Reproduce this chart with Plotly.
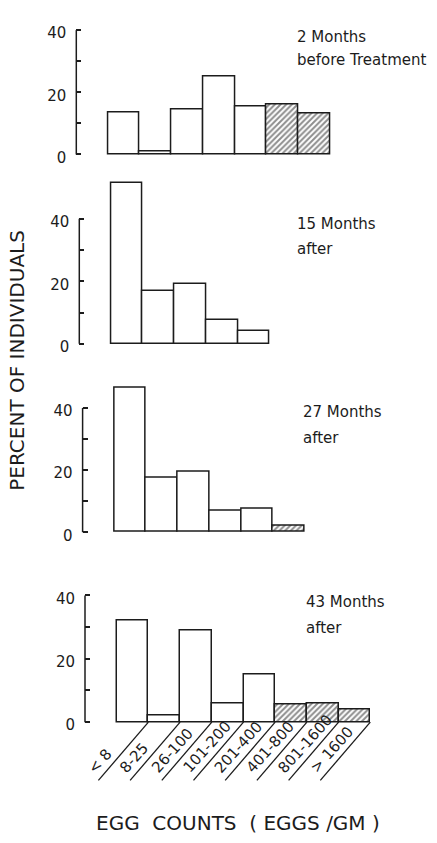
import plotly.graph_objects as go

# ---------------- data ----------------
categories = ["< 8", "8-25", "26-100", "101-200", "201-400", "401-800", "801-1600", "> 1600"]
hatched_categories = ["401-800", "801-1600", "> 1600"]

pct_2m_before = [13.5, 1, 14.5, 25, 15.5, 16, 13]
pct_15m_after = [51.5, 17, 19, 7.5, 4]
pct_27m_after = [46.5, 17.5, 19.5, 7, 7.5, 2]
pct_43m_after = [32, 2, 29, 6, 15, 5.5, 6, 4]

series = [pct_2m_before, pct_15m_after, pct_27m_after, pct_43m_after]
panel_titles = [("2 Months", "before Treatment"), ("15 Months", "after"),
                ("27 Months", "after"), ("43 Months", "after")]

y_tick_vals = [0, 10, 20, 30, 40]
y_tick_text = ["0", "", "20", "", "40"]
y_axis_top = 40
y_title = "PERCENT OF INDIVIDUALS"
x_title = "EGG\u00a0\u00a0COUNTS\u00a0\u00a0(\u00a0EGGS\u00a0/GM\u00a0)"

# ---------------- layout geometry (pixels) ----------------
W, H = 437, 843
UNIT = 31.7                      # px per category
axis_left = [76.3, 79.3, 82.6, 85.0]
y0_px = [156.5, 348.3, 539.3, 731.7]
y40_px = [30.5, 221.7, 413.3, 603.3]
y_ranges = [[-0.4, 45], [-0.4, 55], [-0.4, 50], [-0.4, 45]]
title_pos = [(295, 37, 61), (295, 226.7, 252.7), (301, 417.7, 444), (304, 610, 636.7)]

FONT = "DejaVu Sans"
INK = "#1c1c1c"

fig = go.Figure()
annotations = []
shapes = []

for i, vals in enumerate(series):
    n = i + 1
    xa = "x" if n == 1 else f"x{n}"
    ya = "y" if n == 1 else f"y{n}"
    cats = categories[:len(vals)]
    pats = ["/" if c in hatched_categories else "" for c in cats]
    fig.add_trace(go.Bar(
        x=cats, y=vals, xaxis=xa, yaxis=ya, width=1.0,
        marker=dict(color="white", line=dict(color=INK, width=1.5),
                    pattern=dict(shape=pats, fgcolor=INK, bgcolor="white",
                                 size=4, solidity=0.5)),
        hoverinfo="skip", showlegend=False,
    ))
    left = axis_left[i]
    s = (y0_px[i] - y40_px[i]) / 40.0
    r0, r1 = y_ranges[i]
    xdom = [left / W, (left + 11 * UNIT) / W]
    ydom = [1 - (y0_px[i] - r0 * s) / H, 1 - (y0_px[i] - r1 * s) / H]
    fig.update_layout(**{
        ("xaxis" if n == 1 else f"xaxis{n}"): dict(
            domain=xdom, range=[-1.5, 9.5], type="category",
            categoryorder="array", categoryarray=categories,
            visible=False, anchor=ya),
        ("yaxis" if n == 1 else f"yaxis{n}"): dict(
            domain=ydom, range=[r0, r1], anchor=xa,
            showline=False,
            ticks="inside", ticklen=5, tickwidth=1.5, tickcolor=INK,
            tickvals=y_tick_vals, ticktext=y_tick_text,
            tickfont=dict(family=FONT, size=15, color=INK),
            ticklabelstandoff=9, ticklabelshift=3,
            showgrid=False, zeroline=False),
    })
    # vertical axis line spanning 0..40 only
    shapes.append(dict(type="line", xref=f"{xa} domain", yref=f"{ya} domain",
                       x0=0, x1=0,
                       y0=(0 - r0) / (r1 - r0), y1=(y_axis_top - r0) / (r1 - r0),
                       line=dict(color=INK, width=1.5)))
    tx, ty1, ty2 = title_pos[i]
    for txt, ty in zip(panel_titles[i], (ty1, ty2)):
        annotations.append(dict(
            text=txt, xref="paper", yref="paper", x=tx / W, y=1 - ty / H,
            xanchor="left", yanchor="middle", showarrow=False,
            font=dict(family=FONT, size=15, color=INK)))

# bottom panel: diagonal category dividers and rotated labels
s4 = (y0_px[3] - y40_px[3]) / 40.0
r0, r1 = y_ranges[3]
dom_px = (r1 - r0) * s4
base = (0 - r0) / (r1 - r0)
drop = 59 / dom_px
shift = 50 / UNIT
for k, c in enumerate(categories):
    xb = k + 0.5
    shapes.append(dict(type="line", xref="x4", yref="y4 domain",
                       x0=xb, y0=base, x1=xb - shift, y1=base - drop,
                       line=dict(color=INK, width=1.3)))
    annotations.append(dict(
        text=c, xref="x4", yref="y4 domain", x=xb - shift, y=base - drop,
        xanchor="left", yanchor="bottom", xshift=-17, yshift=1,
        textangle=-48, showarrow=False,
        font=dict(family=FONT, size=15, color=INK)))

annotations.append(dict(text=y_title, xref="paper", yref="paper",
                        x=17.5 / W, y=1 - 365 / H, textangle=-90,
                        xanchor="center", yanchor="middle", showarrow=False,
                        font=dict(family=FONT, size=20, color=INK)))
annotations.append(dict(text=x_title, xref="paper", yref="paper",
                        x=237.5 / W, y=1 - 834 / H,
                        xanchor="center", yanchor="middle", showarrow=False,
                        font=dict(family=FONT, size=20, color=INK)))

fig.update_layout(
    width=W, height=H, margin=dict(l=0, r=0, t=0, b=0),
    paper_bgcolor="white", plot_bgcolor="white",
    bargap=0, showlegend=False,
    annotations=annotations, shapes=shapes,
)

fig.write_html("out.html")
